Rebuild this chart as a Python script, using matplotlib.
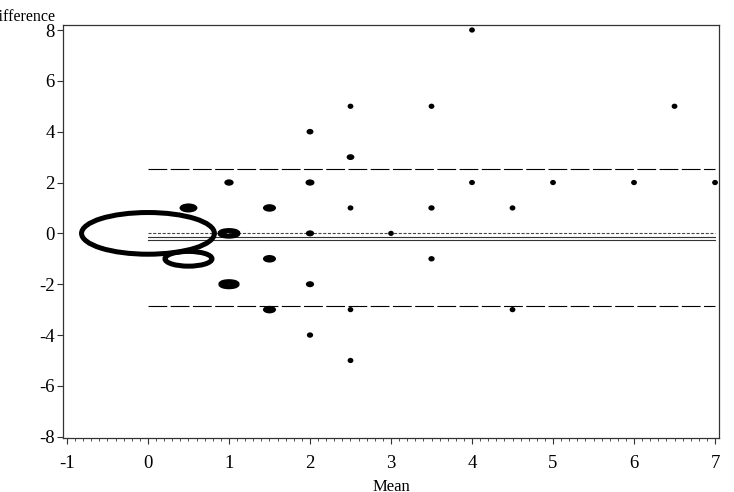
import matplotlib
matplotlib.use("Agg")
import matplotlib.pyplot as plt
from matplotlib.patches import Ellipse
from matplotlib.ticker import MultipleLocator

plt.rcParams['font.family'] = ['Liberation Serif', 'DejaVu Serif']
plt.rcParams['lines.scale_dashes'] = False

# Bubble data: mean, difference, bubble radius (data units)
means = [4, 2.5, 3.5, 6.5, 2, 2.5, 1, 2, 4, 5, 6, 7,
         0.5, 1.5, 2.5, 3.5, 4.5, 0, 1, 2, 3,
         0.5, 1.5, 3.5, 1, 2, 1.5, 2.5, 4.5, 2, 2.5]
diffs = [8, 5, 5, 5, 4, 3, 2, 2, 2, 2, 2, 2,
         1, 1, 1, 1, 1, 0, 0, 0, 0,
         -1, -1, -1, -2, -2, -3, -3, -3, -4, -5]
radii = [0.005, 0.005, 0.005, 0.005, 0.012, 0.017, 0.027, 0.025, 0.005, 0.005, 0.005, 0.005,
         0.08, 0.05, 0.005, 0.008, 0.005, 0.82, 0.11, 0.02, 0.004,
         0.29, 0.05, 0.008, 0.10, 0.02, 0.05, 0.004, 0.005, 0.008, 0.005]

# Reference lines
upper_loa = 2.52
lower_loa = -2.86
zero_line = 0.03
mean_lines = [-0.13, -0.26]
line_start, line_end = 0, 7

xticks = [-1, 0, 1, 2, 3, 4, 5, 6, 7]
yticks = [-8, -6, -4, -2, 0, 2, 4, 6, 8]

W, H = 734, 492
fig = plt.figure(figsize=(W/100, H/100), dpi=100)
ax_l, ax_r, ax_t, ax_b = 63, 719, 25, 438
ax = fig.add_axes([ax_l/W, 1-ax_b/H, (ax_r-ax_l)/W, (ax_b-ax_t)/H])
xlim = (-1.049, 7.049)
ylim = (-8.05, 8.197)
ax.set_xlim(*xlim)
ax.set_ylim(*ylim)

# stroke thickness (5 px) expressed in data units for the solid small bubbles
stroke_px = 5.0
sx = stroke_px * (xlim[1]-xlim[0]) / (ax_r-ax_l)
sy = stroke_px * (ylim[1]-ylim[0]) / (ax_b-ax_t)

for x, y, r in zip(means, diffs, radii):
    if r < 0.1:
        ax.add_patch(Ellipse((x, y), 2*r + sx, 2*r + sy, fc='black', ec='none',
                             lw=0, zorder=3))
    else:
        ax.add_patch(Ellipse((x, y), 2*r, 2*r, fill=False, ec='black',
                             lw=3.6, zorder=3))

ax.plot([line_start, line_end], [upper_loa]*2, color='black', lw=0.8, ls=(0, (13.5, 2.5)))
ax.plot([line_start, line_end], [lower_loa]*2, color='black', lw=0.8, ls=(0, (13.5, 2.5)))
ax.plot([line_start, line_end], [zero_line]*2, color='#444444', lw=0.8, ls=(0, (2.2, 1.2)))
for m in mean_lines:
    ax.plot([line_start, line_end], [m]*2, color='#333333', lw=0.8)

ax.set_xticks(xticks)
ax.set_xticklabels([str(v) for v in xticks])
ax.set_yticks(yticks)
ax.set_yticklabels([str(v) for v in yticks])
ax.xaxis.set_minor_locator(MultipleLocator(0.1))
ax.tick_params(axis='both', which='major', direction='out', length=4, width=0.8, labelsize=13.5, color='#333333')
ax.tick_params(axis='x', which='major', pad=8)
ax.tick_params(axis='y', which='major', pad=2)
ax.tick_params(axis='x', which='minor', direction='out', length=2.5, width=0.6, color='#333333')
for s in ax.spines.values():
    s.set_linewidth(0.9)
    s.set_color('#333333')

fig.text(56/W, 1-17/H, 'Difference', ha='right', va='center', fontsize=11.5)
fig.text(391/W, 1-487/H, 'Mean', ha='center', va='center', fontsize=12)

fig.savefig('out.png', dpi=100)
